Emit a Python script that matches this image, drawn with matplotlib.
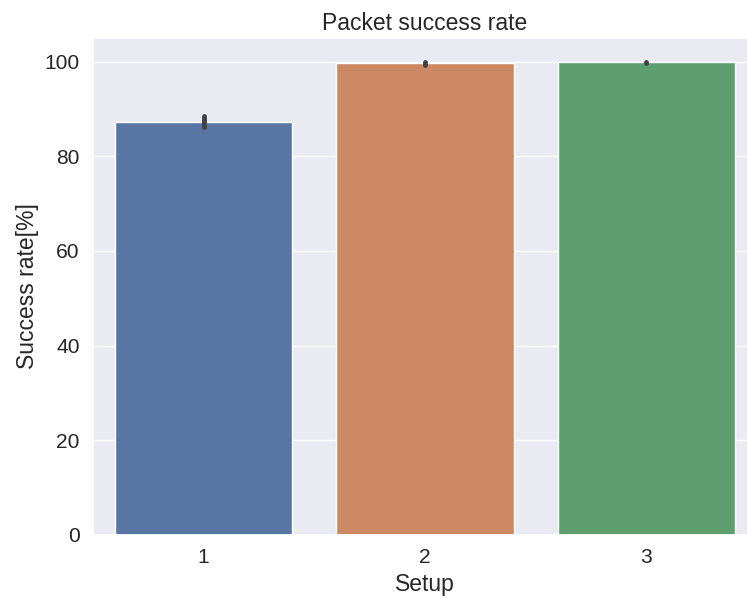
import matplotlib
matplotlib.use("Agg")
import matplotlib.pyplot as plt
import seaborn as sns

setups = ["1", "2", "3"]
success = [87.3, 99.7, 99.95]
ci_low = [86.2, 99.3, 99.8]
ci_high = [88.6, 100.0, 100.0]

sns.set_theme(style="darkgrid", font_scale=1.375)
plt.rcParams["font.family"] = ["Liberation Sans", "DejaVu Sans"]
colors = sns.color_palette("deep", 3)
colors = [sns.desaturate(c, 0.75) for c in colors]

fig = plt.figure(figsize=(7.47, 5.98), dpi=100)
ax = fig.add_axes([93 / 747, 1 - 535 / 598, (759 - 95) / 747, (535 - 38) / 598])

x = list(range(len(setups)))
ax.bar(x, success, width=0.8, color=colors)
ax.vlines(x, ci_low, ci_high, color="#424242", linewidth=3.5, capstyle="round")

ax.set_xticks(x)
ax.set_xticklabels(setups)
ax.xaxis.grid(False)
ax.set_xlim(-0.5, 2.5)
ax.set_ylim(0, 105)
ax.set_xlabel("Setup")
ax.set_ylabel("Success rate[%]")
ax.set_title("Packet success rate")

fig.savefig("out.png", dpi=100)
